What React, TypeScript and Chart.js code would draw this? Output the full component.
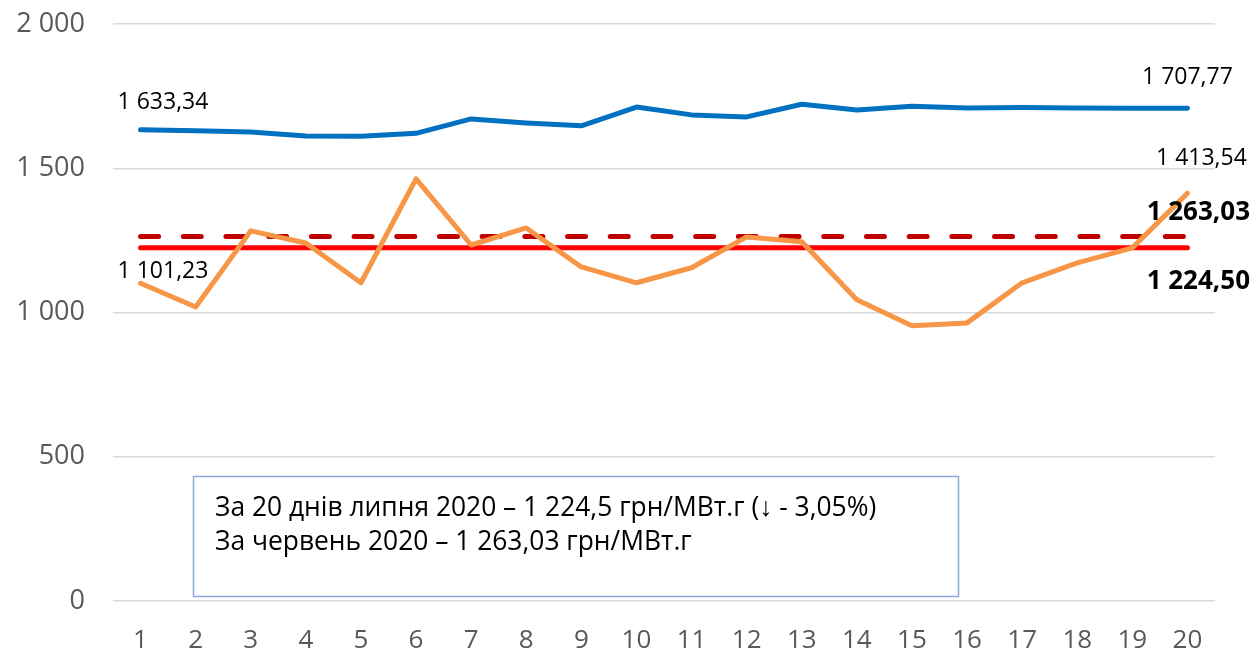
import React, { useEffect, useRef } from "react";
import { Chart, registerables } from "chart.js";

Chart.register(...registerables);

const days = ["1","2","3","4","5","6","7","8","9","10","11","12","13","14","15","16","17","18","19","20"];
const seriesBlue = [1633.34,1630,1626,1612,1611,1621,1671,1657,1647,1712,1685,1678,1722,1702,1715,1709,1711,1709,1708,1707.77];
const seriesOrange = [1101.23,1019,1283,1241,1103,1463,1234,1293,1158,1103,1155,1262,1245,1044,954,964,1103,1172,1224,1413.54];
const avgJuly = 1224.5;
const avgJune = 1263.03;
const yTicks = [0, 500, 1000, 1500, 2000];
const noteLines = [
  "За 20 днів липня 2020 – 1 224,5 грн/МВт.г (↓ - 3,05%)",
  "За червень 2020 – 1 263,03 грн/МВт.г",
];

const FONT = "'Open Sans', sans-serif";

function fmt(v: number, dec: number): string {
  const s = v.toFixed(dec);
  const [ip, dp] = s.split(".");
  const grouped = ip.replace(/\B(?=(\d{3})+(?!\d))/g, " ");
  return dp !== undefined ? grouped + "," + dp : grouped;
}

const overlayPlugin = {
  id: "overlay",
  afterDatasetsDraw(chart: any) {
    const ctx = chart.ctx;
    const x = chart.scales.x;
    const y = chart.scales.y;
    const last = days.length - 1;
    ctx.save();
    ctx.textBaseline = "middle";
    ctx.fillStyle = "#000";
    ctx.font = `23px ${FONT}`;
    // first point labels
    ctx.textAlign = "left";
    ctx.fillText(fmt(seriesBlue[0], 2), x.getPixelForValue(0) - 23, y.getPixelForValue(seriesBlue[0]) - 27);
    ctx.fillText(fmt(seriesOrange[0], 2), x.getPixelForValue(0) - 23, y.getPixelForValue(seriesOrange[0]) - 12);
    // last point labels
    ctx.textAlign = "center";
    ctx.fillText(fmt(seriesBlue[last], 2), x.getPixelForValue(last), y.getPixelForValue(seriesBlue[last]) - 31);
    ctx.fillText(fmt(seriesOrange[last], 2), x.getPixelForValue(last) + 14, y.getPixelForValue(seriesOrange[last]) - 35);
    ctx.font = `bold 26px ${FONT}`;
    ctx.textAlign = "right";
    ctx.fillText(fmt(avgJune, 2), 1250, y.getPixelForValue(avgJune) - 24);
    ctx.fillText(fmt(avgJuly, 2), 1250, y.getPixelForValue(avgJuly) + 34);

    // note box
    ctx.fillStyle = "#ffffff";
    ctx.fillRect(193, 476, 765, 120);
    ctx.strokeStyle = "#8EA9DB";
    ctx.lineWidth = 1.5;
    ctx.strokeRect(193.5, 476.5, 765, 120);
    ctx.fillStyle = "#000";
    ctx.textAlign = "left";
    ctx.font = `26.4px ${FONT}`;
    ctx.fillText(noteLines[0], 215, 508);
    ctx.fillText(noteLines[1], 215, 542);
    ctx.restore();
  },
};

export default function App() {
  const ref = useRef<HTMLCanvasElement>(null);
  useEffect(() => {
    if (!ref.current) return;
    const chart = new Chart(ref.current, {
      type: "line",
      data: {
        labels: days,
        datasets: [
          {
            data: seriesBlue,
            borderColor: "#0070C0",
            borderWidth: 5,
            pointRadius: 0,
            borderCapStyle: "round",
            borderJoinStyle: "round",
            tension: 0,
          },
          {
            data: seriesOrange,
            borderColor: "#F79646",
            borderWidth: 5,
            pointRadius: 0,
            borderCapStyle: "round",
            borderJoinStyle: "round",
            tension: 0,
          },
          {
            data: [{ x: days[0], y: avgJuly }, { x: days[days.length - 1], y: avgJuly }] as any,
            borderColor: "#FF0000",
            borderWidth: 5,
            pointRadius: 0,
            borderCapStyle: "round",
          },
          {
            data: [{ x: days[0], y: avgJune }, { x: days[days.length - 1], y: avgJune }] as any,
            borderColor: "#C00000",
            borderWidth: 5,
            pointRadius: 0,
            borderCapStyle: "round",
            borderDash: [18, 24.7],
          },
        ],
      },
      options: {
        responsive: false,
        animation: false,
        layout: { padding: { top: 24, right: 36, left: 0, bottom: 0 } },
        plugins: { legend: { display: false }, tooltip: { enabled: false } },
        scales: {
          x: {
            offset: true,
            grid: { display: false, drawTicks: false, offset: true },
            border: { display: false },
            ticks: { color: "#595959", font: { family: FONT, size: 26 }, padding: 24, maxRotation: 0 },
            afterFit: (s: any) => { s.height = 55; s.paddingLeft = 0; s.paddingRight = 0; },
          },
          y: {
            min: 0,
            max: 2000,
            afterBuildTicks: (s: any) => { s.ticks = yTicks.map((v) => ({ value: v })); },
            grid: { color: "#D9D9D9", lineWidth: 1.5, drawTicks: false },
            border: { display: false },
            ticks: {
              color: "#595959",
              font: { family: FONT, size: 27 },
              padding: 28,
              callback: (v: any) => fmt(Number(v), 0),
            },
            afterFit: (s: any) => { s.width = 113; s.paddingTop = 0; s.paddingBottom = 0; },
          },
        },
      },
      plugins: [overlayPlugin],
    });
    return () => chart.destroy();
  }, []);
  return (
    <div style={{ position: "absolute", left: 0, top: 0, width: 1251, height: 656, background: "#fff" }}>
      <canvas ref={ref} width={1251} height={656} />
    </div>
  );
}
